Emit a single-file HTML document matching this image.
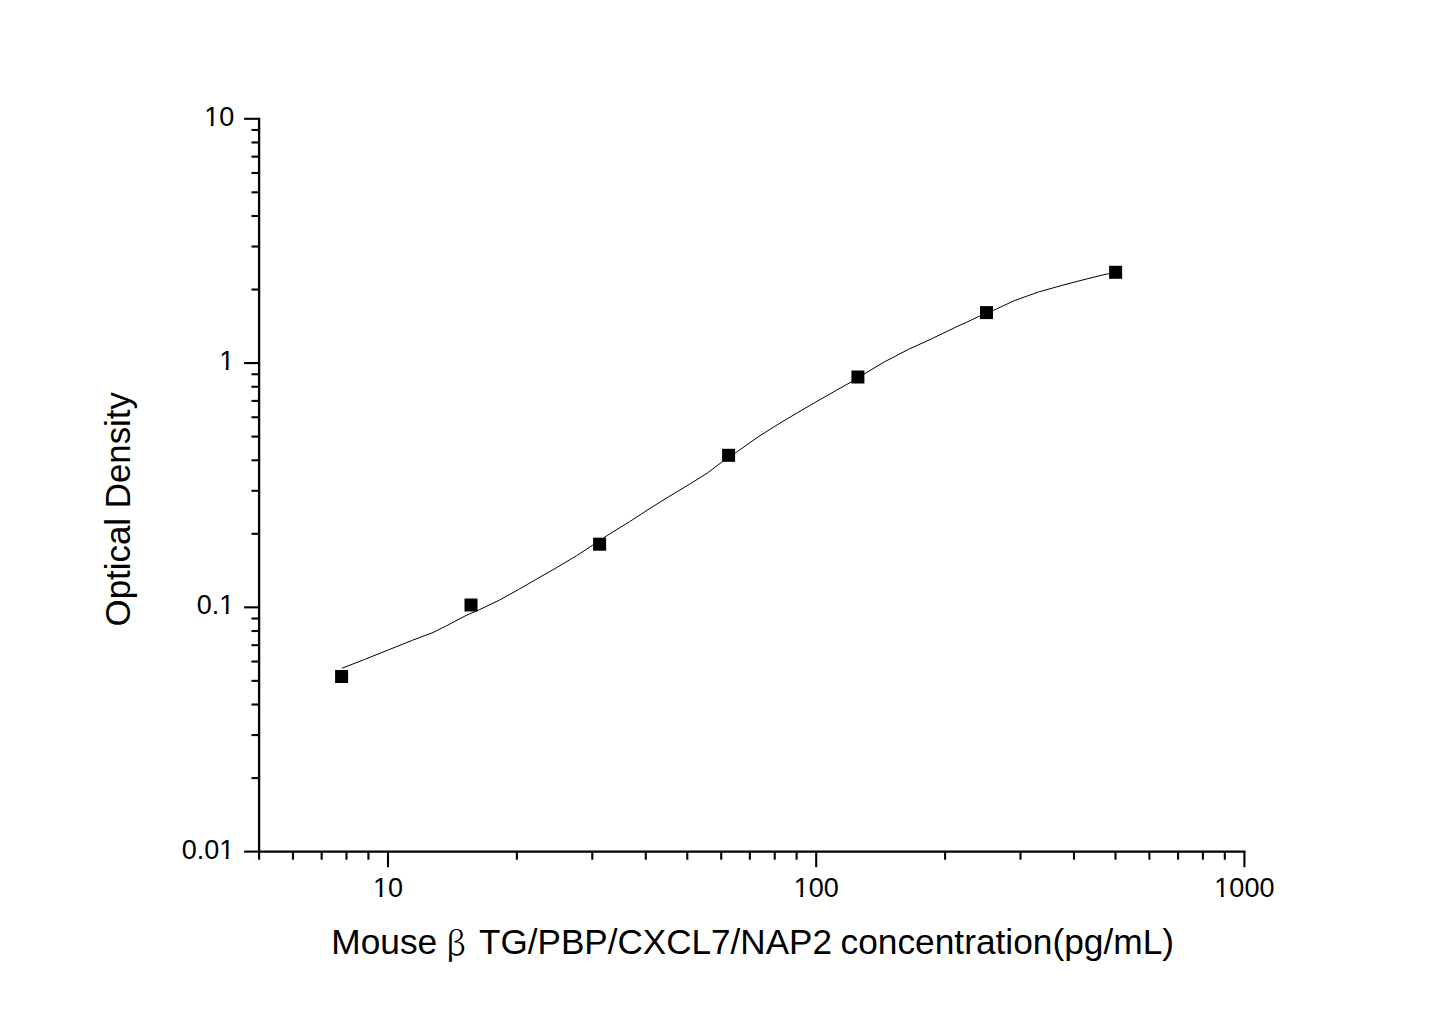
<!DOCTYPE html>
<html><head><meta charset="utf-8"><title>Standard curve</title><style>html,body{margin:0;padding:0;background:#fff;}svg{display:block;}</style></head><body>
<svg width="1445" height="1021" viewBox="0 0 1445 1021">
<rect width="1445" height="1021" fill="#fff"/>
<g stroke="#000" fill="none" stroke-linecap="butt">
<line x1="259.10" y1="117.65" x2="259.10" y2="852.76" stroke-width="2.3"/>
<line x1="257.95" y1="851.61" x2="1245.55" y2="851.61" stroke-width="2.3"/>
<line x1="244.10" y1="851.61" x2="259.10" y2="851.61" stroke-width="2.1"/>
<line x1="251.50" y1="778.08" x2="259.10" y2="778.08" stroke-width="2.1"/>
<line x1="251.50" y1="735.06" x2="259.10" y2="735.06" stroke-width="2.1"/>
<line x1="251.50" y1="704.54" x2="259.10" y2="704.54" stroke-width="2.1"/>
<line x1="251.50" y1="680.87" x2="259.10" y2="680.87" stroke-width="2.1"/>
<line x1="251.50" y1="661.53" x2="259.10" y2="661.53" stroke-width="2.1"/>
<line x1="251.50" y1="645.18" x2="259.10" y2="645.18" stroke-width="2.1"/>
<line x1="251.50" y1="631.01" x2="259.10" y2="631.01" stroke-width="2.1"/>
<line x1="251.50" y1="618.52" x2="259.10" y2="618.52" stroke-width="2.1"/>
<line x1="244.10" y1="607.34" x2="259.10" y2="607.34" stroke-width="2.1"/>
<line x1="251.50" y1="533.81" x2="259.10" y2="533.81" stroke-width="2.1"/>
<line x1="251.50" y1="490.79" x2="259.10" y2="490.79" stroke-width="2.1"/>
<line x1="251.50" y1="460.27" x2="259.10" y2="460.27" stroke-width="2.1"/>
<line x1="251.50" y1="436.60" x2="259.10" y2="436.60" stroke-width="2.1"/>
<line x1="251.50" y1="417.26" x2="259.10" y2="417.26" stroke-width="2.1"/>
<line x1="251.50" y1="400.91" x2="259.10" y2="400.91" stroke-width="2.1"/>
<line x1="251.50" y1="386.74" x2="259.10" y2="386.74" stroke-width="2.1"/>
<line x1="251.50" y1="374.25" x2="259.10" y2="374.25" stroke-width="2.1"/>
<line x1="244.10" y1="363.07" x2="259.10" y2="363.07" stroke-width="2.1"/>
<line x1="251.50" y1="289.54" x2="259.10" y2="289.54" stroke-width="2.1"/>
<line x1="251.50" y1="246.52" x2="259.10" y2="246.52" stroke-width="2.1"/>
<line x1="251.50" y1="216.00" x2="259.10" y2="216.00" stroke-width="2.1"/>
<line x1="251.50" y1="192.33" x2="259.10" y2="192.33" stroke-width="2.1"/>
<line x1="251.50" y1="172.99" x2="259.10" y2="172.99" stroke-width="2.1"/>
<line x1="251.50" y1="156.64" x2="259.10" y2="156.64" stroke-width="2.1"/>
<line x1="251.50" y1="142.47" x2="259.10" y2="142.47" stroke-width="2.1"/>
<line x1="251.50" y1="129.98" x2="259.10" y2="129.98" stroke-width="2.1"/>
<line x1="244.10" y1="118.80" x2="259.10" y2="118.80" stroke-width="2.1"/>
<line x1="259.10" y1="851.61" x2="259.10" y2="859.71" stroke-width="2.1"/>
<line x1="293.00" y1="851.61" x2="293.00" y2="859.71" stroke-width="2.1"/>
<line x1="321.67" y1="851.61" x2="321.67" y2="859.71" stroke-width="2.1"/>
<line x1="346.50" y1="851.61" x2="346.50" y2="859.71" stroke-width="2.1"/>
<line x1="368.41" y1="851.61" x2="368.41" y2="859.71" stroke-width="2.1"/>
<line x1="388.00" y1="851.61" x2="388.00" y2="867.21" stroke-width="2.1"/>
<line x1="516.90" y1="851.61" x2="516.90" y2="859.71" stroke-width="2.1"/>
<line x1="592.30" y1="851.61" x2="592.30" y2="859.71" stroke-width="2.1"/>
<line x1="645.80" y1="851.61" x2="645.80" y2="859.71" stroke-width="2.1"/>
<line x1="687.30" y1="851.61" x2="687.30" y2="859.71" stroke-width="2.1"/>
<line x1="721.20" y1="851.61" x2="721.20" y2="859.71" stroke-width="2.1"/>
<line x1="749.87" y1="851.61" x2="749.87" y2="859.71" stroke-width="2.1"/>
<line x1="774.70" y1="851.61" x2="774.70" y2="859.71" stroke-width="2.1"/>
<line x1="796.61" y1="851.61" x2="796.61" y2="859.71" stroke-width="2.1"/>
<line x1="816.20" y1="851.61" x2="816.20" y2="867.21" stroke-width="2.1"/>
<line x1="945.10" y1="851.61" x2="945.10" y2="859.71" stroke-width="2.1"/>
<line x1="1020.50" y1="851.61" x2="1020.50" y2="859.71" stroke-width="2.1"/>
<line x1="1074.00" y1="851.61" x2="1074.00" y2="859.71" stroke-width="2.1"/>
<line x1="1115.50" y1="851.61" x2="1115.50" y2="859.71" stroke-width="2.1"/>
<line x1="1149.40" y1="851.61" x2="1149.40" y2="859.71" stroke-width="2.1"/>
<line x1="1178.07" y1="851.61" x2="1178.07" y2="859.71" stroke-width="2.1"/>
<line x1="1202.90" y1="851.61" x2="1202.90" y2="859.71" stroke-width="2.1"/>
<line x1="1224.81" y1="851.61" x2="1224.81" y2="859.71" stroke-width="2.1"/>
<line x1="1244.40" y1="851.61" x2="1244.40" y2="867.21" stroke-width="2.1"/>
</g>
<path d="M341.9,668.3 L364.2,659.6 L388.4,649.9 L412.7,640.2 L433.0,632.5 L446.6,625.7 L466.0,615.5 L479.6,609.6 L499.1,600.3 L518.4,589.6 L537.8,578.4 L557.2,567.3 L576.6,555.7 L592.1,545.5 L607.7,535.2 L629.4,521.8 L649.0,509.0 L668.6,496.8 L688.1,485.1 L707.7,472.8 L721.9,462.0 L737.2,451.7 L759.1,436.2 L778.4,424.1 L797.8,412.5 L815.3,402.3 L836.6,390.2 L851.1,382.0 L867.2,372.2 L884.2,362.0 L908.4,349.4 L932.7,338.3 L956.9,326.6 L966.6,322.3 L979.7,316.0 L996.2,309.1 L1014.2,300.7 L1038.4,292.0 L1062.7,285.2 L1086.9,278.9 L1106.3,274.1 L1115.5,272.8" fill="none" stroke="#000" stroke-width="1.0" stroke-linejoin="round"/>
<rect x="335.10" y="670.00" width="13.0" height="13.0" fill="#000"/>
<rect x="464.50" y="598.50" width="13.0" height="13.0" fill="#000"/>
<rect x="593.10" y="537.70" width="13.0" height="13.0" fill="#000"/>
<rect x="722.10" y="448.80" width="13.0" height="13.0" fill="#000"/>
<rect x="851.40" y="370.50" width="13.0" height="13.0" fill="#000"/>
<rect x="980.00" y="306.10" width="13.0" height="13.0" fill="#000"/>
<rect x="1109.10" y="265.80" width="13.0" height="13.0" fill="#000"/>
<g font-family="Liberation Sans, Arial, sans-serif" font-size="27.6" fill="#000">
<text x="234.20" y="125.80" text-anchor="end" textLength="30.03" lengthAdjust="spacingAndGlyphs">10</text>
<text x="234.20" y="370.07" text-anchor="end" textLength="15.02" lengthAdjust="spacingAndGlyphs">1</text>
<text x="234.20" y="614.34" text-anchor="end" textLength="37.53" lengthAdjust="spacingAndGlyphs">0.1</text>
<text x="234.20" y="858.61" text-anchor="end" textLength="52.55" lengthAdjust="spacingAndGlyphs">0.01</text>
<text x="388.00" y="897.00" text-anchor="middle" textLength="30.03" lengthAdjust="spacingAndGlyphs">10</text>
<text x="816.20" y="897.00" text-anchor="middle" textLength="45.05" lengthAdjust="spacingAndGlyphs">100</text>
<text x="1244.40" y="897.00" text-anchor="middle" textLength="60.06" lengthAdjust="spacingAndGlyphs">1000</text>
</g>
<rect x="205.02" y="123.34" width="5.78" height="3.16" fill="#fff"/>
<rect x="213.49" y="123.34" width="5.82" height="3.16" fill="#fff"/>
<rect x="220.04" y="367.61" width="5.78" height="3.16" fill="#fff"/>
<rect x="228.51" y="367.61" width="5.82" height="3.16" fill="#fff"/>
<rect x="220.04" y="611.88" width="5.78" height="3.16" fill="#fff"/>
<rect x="228.51" y="611.88" width="5.82" height="3.16" fill="#fff"/>
<rect x="220.04" y="856.15" width="5.78" height="3.16" fill="#fff"/>
<rect x="228.51" y="856.15" width="5.82" height="3.16" fill="#fff"/>
<rect x="373.84" y="894.54" width="5.78" height="3.16" fill="#fff"/>
<rect x="382.31" y="894.54" width="5.82" height="3.16" fill="#fff"/>
<rect x="794.53" y="894.54" width="5.78" height="3.16" fill="#fff"/>
<rect x="803.00" y="894.54" width="5.82" height="3.16" fill="#fff"/>
<rect x="1215.22" y="894.54" width="5.78" height="3.16" fill="#fff"/>
<rect x="1223.69" y="894.54" width="5.82" height="3.16" fill="#fff"/>
<text x="331.30" y="954.00" font-family="Liberation Sans, Arial, sans-serif" font-size="35.3" fill="#000">Mouse</text>
<text x="445.80" y="955.20" font-family="Noto Serif CJK SC, Liberation Serif, serif" font-size="32.8" fill="#000">β</text>
<text x="479.00" y="954.00" font-family="Liberation Sans, Arial, sans-serif" font-size="35.3" fill="#000" textLength="353.00" lengthAdjust="spacingAndGlyphs">TG/PBP/CXCL7/NAP2</text>
<text x="840.50" y="954.00" font-family="Liberation Sans, Arial, sans-serif" font-size="35.3" fill="#000">concentration(pg/mL)</text>
<text transform="translate(129.80,626.40) rotate(-90)" font-family="Liberation Sans, Arial, sans-serif" font-size="35.3" fill="#000" textLength="234.30" lengthAdjust="spacingAndGlyphs">Optical Density</text>
</svg>
</body></html>
